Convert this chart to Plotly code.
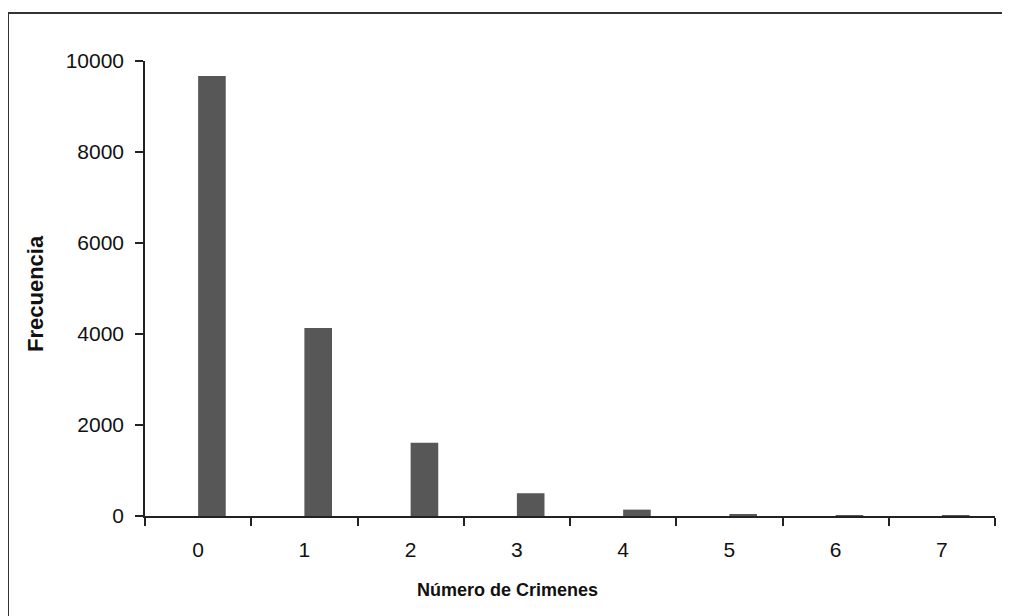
import plotly.graph_objects as go

categories = ["0", "1", "2", "3", "4", "5", "6", "7"]
frecuencia = [9670, 4130, 1610, 500, 140, 30, 5, 1]
y_ticks = [0, 2000, 4000, 6000, 8000, 10000]

# page body has an 8px margin; compensate
OFF = 8
W, H = 1010 - OFF, 616 - OFF
L, R, T, B = 145 - OFF, 15, 61 - OFF, 100
pw, ph = W - L - R, H - T - B

def px_x(x):
    return (x - OFF - L) / pw

def px_y(y):
    return (H - B - (y - OFF)) / ph

fig = go.Figure()
fig.add_trace(go.Bar(
    x=categories, y=frecuencia,
    marker=dict(color="#575757", line=dict(width=0)),
    width=0.26, offset=0,
    hoverinfo="x+y",
))

font_tick = dict(family="Liberation Sans, Arial, sans-serif", size=21, color="#111111")
axis_col = "#222222"
title_family = "Liberation Sans, Arial, sans-serif"

fig.update_layout(
    width=W, height=H,
    margin=dict(l=L, r=R, t=T, b=B, pad=0),
    paper_bgcolor="white", plot_bgcolor="white",
    showlegend=False,
    xaxis=dict(
        type="category", tickson="boundaries", ticks="outside", ticklen=8,
        tickwidth=1.5, tickcolor=axis_col, showline=True, linecolor=axis_col,
        linewidth=1.5, showgrid=False, zeroline=False, tickfont=font_tick,
        ticklabelstandoff=14, range=[-0.5, 7.5],
    ),
    yaxis=dict(
        range=[0, 10000], tickvals=y_ticks, ticktext=[str(v) for v in y_ticks],
        ticks="outside", ticklen=8, tickwidth=1.5, tickcolor=axis_col,
        showline=True, linecolor=axis_col, linewidth=1.5, showgrid=False,
        zeroline=False, tickfont=font_tick, ticklabelstandoff=7,
    ),
    annotations=[
        dict(text="<b>Número de Crimenes</b>", xref="paper", yref="paper",
             x=px_x(507), y=px_y(590), showarrow=False,
             font=dict(family=title_family, size=18, color="#111111"),
             xanchor="center", yanchor="middle"),
        dict(text="<b>Frecuencia</b>", xref="paper", yref="paper",
             x=px_x(35), y=px_y(293), showarrow=False, textangle=-90,
             font=dict(family=title_family, size=22, color="#111111"),
             xanchor="center", yanchor="middle"),
    ],
    shapes=[
        dict(type="rect", xref="paper", yref="paper",
             x0=px_x(8), x1=px_x(1030), y0=px_y(640), y1=px_y(13),
             line=dict(color="#333333", width=2), fillcolor="rgba(0,0,0,0)", layer="below"),
    ],
)

fig.write_html("out.html")
